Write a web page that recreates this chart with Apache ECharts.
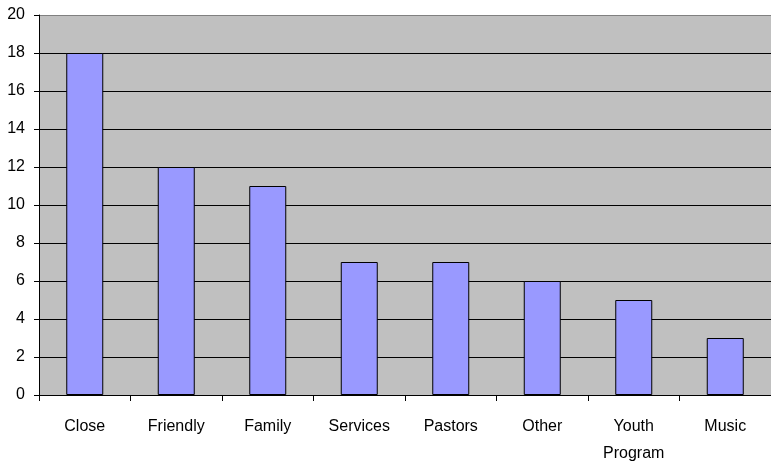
<!DOCTYPE html>
<html><head><meta charset="utf-8">
<script src="https://cdn.jsdelivr.net/npm/echarts@6/dist/echarts.min.js"></script>
<style>html,body{margin:0;padding:0;background:#fff}#c{width:771px;height:464px}</style>
</head><body><div id="c"></div>
<script>
const categories = ['Close','Friendly','Family','Services','Pastors','Other','Youth\nProgram','Music'];
const values = [18,12,11,7,7,6,5,3];
const yTicks = {min:0,max:20,interval:2};

const FONT = '"Liberation Sans", Arial, sans-serif';
const chart = echarts.init(document.getElementById('c'), null, {renderer:'canvas'});
const splitColors = [];
for (let v = yTicks.min; v <= yTicks.max; v += yTicks.interval) splitColors.push(v === yTicks.max ? '#808080' : '#000000');
chart.setOption({
  animation:false,
  grid:{left:39,right:0,top:15,bottom:69,show:true,backgroundColor:'#C0C0C0',borderWidth:0,
    containLabel:false,outerBoundsMode:'none'},
  xAxis:{type:'category',data:categories,
    axisLine:{show:true,lineStyle:{color:'#000',width:1}},
    axisTick:{show:true,alignWithLabel:false,length:6,lineStyle:{color:'#000'}},
    axisLabel:{color:'#000',fontFamily:FONT,fontSize:16,margin:18,lineHeight:27,interval:0}
  },
  yAxis:{type:'value',min:yTicks.min,max:yTicks.max,interval:yTicks.interval,
    axisLine:{show:true,lineStyle:{color:'#000',width:1}},
    axisTick:{show:true,length:5,lineStyle:{color:'#000'}},
    axisLabel:{color:'#000',fontFamily:FONT,fontSize:16,margin:14},
    splitLine:{show:true,lineStyle:{color:splitColors,width:1}}
  },
  series:[{type:'bar',data:values,barWidth:37,
    itemStyle:{color:'#9999FF',borderColor:'#000',borderWidth:1}}]
});
</script></body></html>
